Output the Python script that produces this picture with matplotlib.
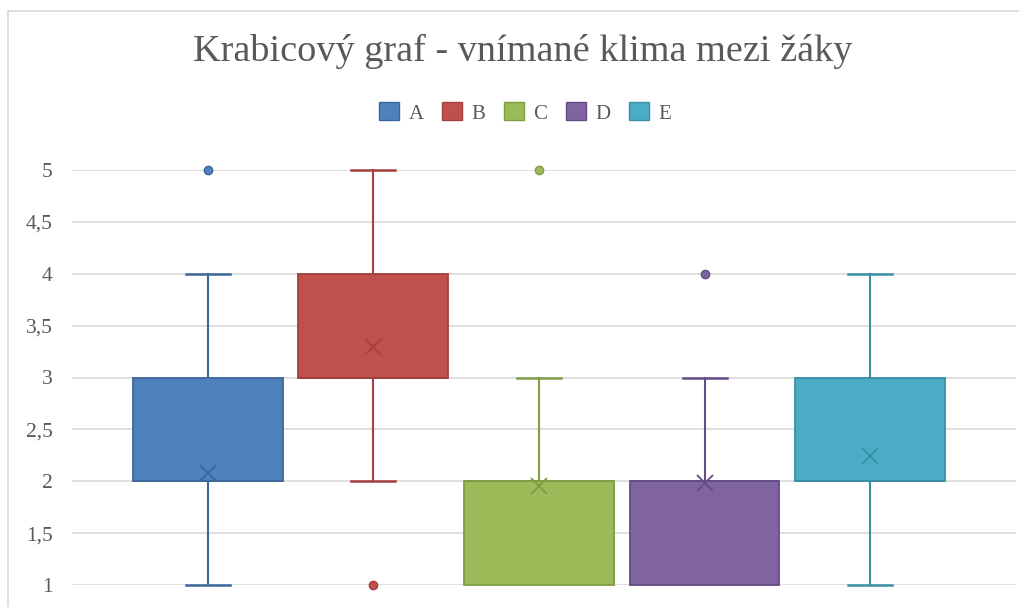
import numpy as np
import matplotlib
matplotlib.use("Agg")
import matplotlib.pyplot as plt
from matplotlib.patches import Rectangle, Patch
from matplotlib.ticker import FuncFormatter

plt.rcParams["font.family"] = ["Liberation Serif", "DejaVu Serif"]

groups = ["A", "B", "C", "D", "E"]
whislo = [1, 2, 1, 1, 1]
q1 = [2, 3, 1, 1, 2]
med = [2, 3, 2, 2, 2]
q3 = [3, 4, 2, 2, 3]
whishi = [4, 5, 3, 3, 4]
means = [2.08, 3.29, 1.95, 1.98, 2.24]
outliers = [[5], [1], [5], [4], []]

fills = ["#4F81BD", "#C0504D", "#9BBB59", "#8064A2", "#4BACC6"]
edges = ["#3A6699", "#A33F3C", "#7E9D45", "#644C85", "#3A90A6"]
TXT = "#595959"

fig = plt.figure(figsize=(10.2, 6.07), dpi=100)
ax = fig.add_axes([72 / 1020, 22 / 607, (1016 - 72) / 1020, (585 - 170) / 607])

# chart frame
fig.patches.append(Rectangle((8 / 1020, -0.2), 1.2, 1.2 - 11 / 607, transform=fig.transFigure,
                             fill=False, ec="#D9D9D9", lw=1.2))

for i, g in enumerate(groups):
    st = dict(med=med[i], q1=q1[i], q3=q3[i], whislo=whislo[i], whishi=whishi[i],
              fliers=outliers[i], mean=means[i], label=g)
    # no lower cap when the whisker collapses onto the box
    cw = 0.265 if whislo[i] < q1[i] else 0.0
    r = ax.bxp([st], positions=[i], widths=0.904, patch_artist=True, showmeans=True,
               boxprops=dict(facecolor=fills[i], edgecolor=edges[i], lw=1.3),
               medianprops=dict(color=edges[i], lw=1.3),
               whiskerprops=dict(color=edges[i], lw=1.5),
               capprops=dict(color=edges[i], lw=1.8),
               capwidths=0.265,
               meanprops=dict(marker="x", markersize=11, markeredgecolor=edges[i], markeredgewidth=1.3),
               flierprops=dict(marker="o", markersize=6, markerfacecolor=fills[i], markeredgecolor=edges[i]),
               zorder=3)
    if cw == 0.0:
        r["caps"][0].set_visible(False)

ax.set_xlim(-0.819, 4.88)
ax.set_ylim(1, 5)
ax.set_yticks(np.arange(1, 5.01, 0.5))
ax.yaxis.set_major_formatter(FuncFormatter(lambda v, p: f"{v:g}".replace(".", ",")))
ax.set_xticks([])
ax.grid(axis="y", color="#D9D9D9", lw=1.2, zorder=0)
ax.set_axisbelow(True)
for s in ax.spines.values():
    s.set_visible(False)
ax.tick_params(axis="y", length=0, pad=14, labelsize=15.5, labelcolor=TXT)
for art in ax.get_children():
    art.set_clip_on(False)

fig.text(523 / 1020, 1 - 51 / 607, "Krabicový graf - vnímané klima mezi žáky",
         ha="center", va="center", fontsize=27.5, color=TXT)

handles = [Patch(facecolor=fills[i], edgecolor=edges[i], label=g) for i, g in enumerate(groups)]
fig.legend(handles=handles, loc="center", bbox_to_anchor=(525 / 1020, 1 - 113 / 607), ncol=5,
           frameon=False, fontsize=15, labelcolor=TXT, handlelength=0.95, handleheight=0.95,
           handletextpad=0.45, columnspacing=0.9)

fig.savefig("out.png", dpi=100)
